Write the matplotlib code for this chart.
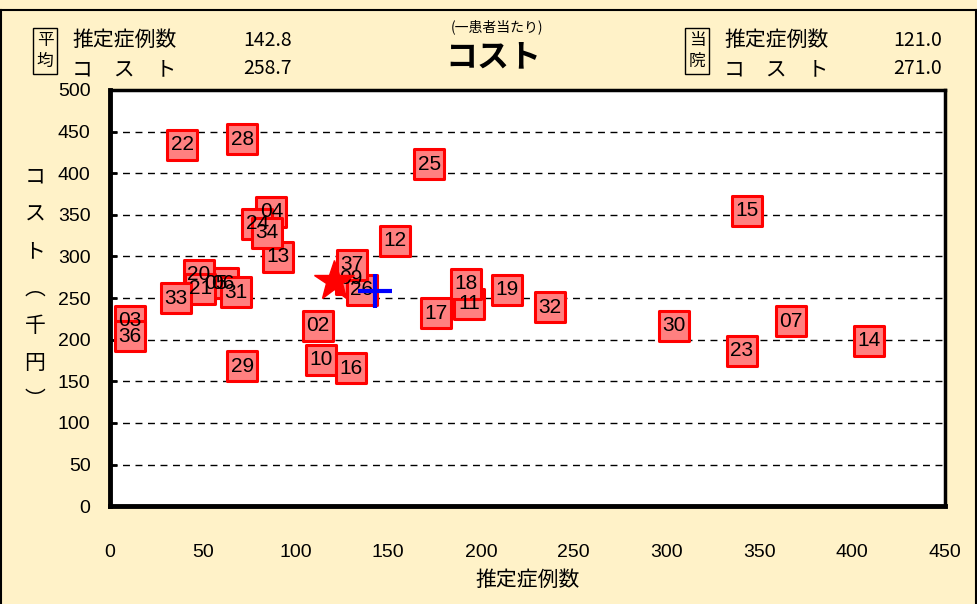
import numpy as np
import matplotlib
matplotlib.use("Agg")
import matplotlib.pyplot as plt
from matplotlib.lines import Line2D

plt.rcParams['font.family'] = ['Noto Sans CJK JP', 'DejaVu Sans']

# Data
labels = ['02', '03', '04', '05', '06', '07', '09', '10', '11', '12', '13',
          '14', '15', '16', '17', '18', '19', '20', '21', '22', '23', '24',
          '25', '26', '28', '29', '30', '31', '32', '33', '34', '36', '37']
cases = [112, 10.8, 87, 57, 61, 367, 130, 113.6, 193.6, 153.6, 90.3,
         409, 343.4, 129.8, 176, 192, 214, 48, 48.7, 39, 340.7, 79.5,
         172, 135.7, 71.4, 71.4, 304, 68, 237, 35.7, 84.4, 10.8, 130.3]
costs = [217, 223, 354, 268, 268, 222, 273, 176, 243, 319, 299.5,
         199, 355, 165.5, 232, 267, 260, 278, 261, 434, 187, 339,
         411, 260, 441, 168, 217, 257, 239, 250, 328.5, 204, 290]

avg_cases, avg_cost = 142.8, 258.7
own_cases, own_cost = 121.0, 271.0

bg = '#FFF2C8'
fig = plt.figure(figsize=(9.78, 6.04), dpi=100, facecolor=bg)
ax = fig.add_axes([0.1125, 0.162, 0.8535, 0.689])
ax.set_facecolor('white')

# hospital markers
ax.scatter(cases, costs, marker='s', s=440, facecolor='#FF8080',
           edgecolor='#FF0000', linewidth=2.2, zorder=3)
for lab, x, y in zip(labels, cases, costs):
    ax.text(x, y, lab, ha='center', va='center', fontsize=15,
            family='Liberation Sans', color='black', zorder=4)

# own hospital (star) and average (cross)
ax.plot([own_cases], [own_cost], marker='*', markersize=30, color='#FF0000',
        linestyle='none', zorder=5)
ax.plot([avg_cases], [avg_cost], marker='+', markersize=25, markeredgewidth=3,
        color='#0000FF', linestyle='none', zorder=5)

ax.set_xlim(0, 450)
ax.set_ylim(0, 500)
ax.set_xticks(np.arange(0, 451, 50))
ax.set_yticks(np.arange(0, 501, 50))
ax.yaxis.grid(True, linestyle=(0, (5, 4)), color='black', linewidth=1)
ax.set_axisbelow(True)
ax.tick_params(axis='x', length=0, pad=27, labelsize=14)
ax.tick_params(axis='y', direction='in', length=5, width=2, pad=14, labelsize=14)
for lab in ax.get_xticklabels() + ax.get_yticklabels():
    lab.set_family('Liberation Sans')
for side in ['left', 'bottom']:
    ax.spines[side].set_linewidth(3.5)
for side in ['top', 'right']:
    ax.spines[side].set_linewidth(2.5)

ax.set_xlabel('推定症例数', fontsize=15, labelpad=6)

# vertical y label, one character per row
ychars = ['コ', 'ス', 'ト', '︵', '千', '円', '︶']
for i, ch in enumerate(ychars):
    fig.text(35 / 978, 1 - (177 + i * 37.2) / 604, ch, ha='center', va='center',
             fontsize=15)

# frame lines of the sheet
fig.add_artist(Line2D([0, 1], [1 - 10 / 604] * 2, color='black', linewidth=1.5))
fig.add_artist(Line2D([1 / 978] * 2, [0, 1 - 10 / 604], color='black', linewidth=1.5))
fig.add_artist(Line2D([976 / 978] * 2, [0, 1 - 10 / 604], color='black', linewidth=1.5))

# header
def fy(py):
    return 1 - py / 604

def fx(px):
    return px / 978

fig.text(fx(497), fy(27), '(一患者当たり)', ha='center', va='center', fontsize=10)
fig.text(fx(493), fy(57), 'コスト', ha='center', va='center', fontsize=23,
         fontweight='bold')

for bx, name, n1, n2, nx in [(45, '平\n均', avg_cases, avg_cost, 292),
                             (697, '当\n院', own_cases, own_cost, 942)]:
    fig.text(fx(bx), fy(51), name, ha='center', va='center', fontsize=12,
             linespacing=1.3,
             bbox=dict(boxstyle='square,pad=0.25', facecolor='none',
                       edgecolor='black', linewidth=1))
    fig.text(fx(bx + 27), fy(40), '推定症例数', ha='left', va='center', fontsize=15)
    fig.text(fx(bx + 27), fy(69), 'コ\u3000ス\u3000ト', ha='left', va='center',
             fontsize=15)
    fig.text(fx(nx), fy(40), f'{n1:.1f}', ha='right', va='center', fontsize=14)
    fig.text(fx(nx), fy(69), f'{n2:.1f}', ha='right', va='center', fontsize=14)

fig.savefig('out.png', dpi=100, facecolor=bg)
